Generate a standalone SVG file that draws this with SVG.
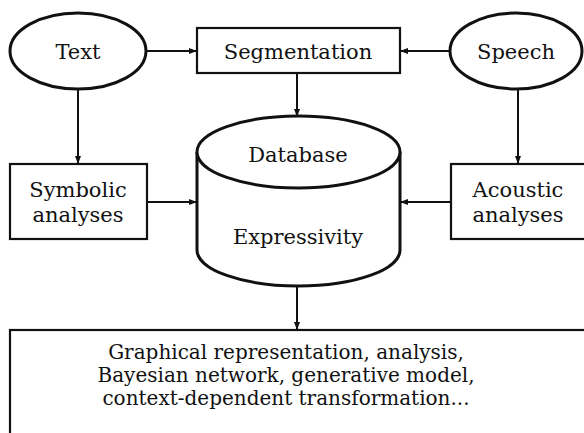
<svg xmlns="http://www.w3.org/2000/svg" width="584" height="433" viewBox="0 0 584 433">
<style>
text{font-family:"DejaVu Serif","Liberation Serif",serif;font-size:21px;fill:#111;text-anchor:middle}
.s{font-size:20px}
.b{fill:#fff;stroke:#111;stroke-width:2.2}
.e{fill:#fff;stroke:#111;stroke-width:3}
.c{fill:none;stroke:#111;stroke-width:2}
</style>
<defs>
<marker id="a" viewBox="0 0 8 6" refX="8" refY="3" markerWidth="8" markerHeight="6" markerUnits="userSpaceOnUse" orient="auto">
<path d="M0,0 L8,3 L0,6 z" fill="#111"/>
</marker>
</defs>
<g id="connectors">
<line class="c" x1="147" y1="51" x2="197" y2="51" marker-end="url(#a)"/>
<line class="c" x1="450" y1="51" x2="400" y2="51" marker-end="url(#a)"/>
<line class="c" x1="297" y1="73" x2="297" y2="117" marker-end="url(#a)"/>
<line class="c" x1="78" y1="89" x2="78" y2="164" marker-end="url(#a)"/>
<line class="c" x1="518" y1="89" x2="518" y2="164" marker-end="url(#a)"/>
<line class="c" x1="147" y1="202" x2="197" y2="202" marker-end="url(#a)"/>
<line class="c" x1="451" y1="202" x2="400" y2="202" marker-end="url(#a)"/>
<line class="c" x1="297" y1="286" x2="297" y2="330" marker-end="url(#a)"/>
</g>
<g id="text-node">
<ellipse class="e" cx="78" cy="51" rx="68" ry="38"/>
<text x="78" y="59">Text</text>
</g>
<g id="segmentation">
<rect class="b" x="197" y="28" width="203" height="45"/>
<text x="298" y="59">Segmentation</text>
</g>
<g id="speech">
<ellipse class="e" cx="516" cy="51" rx="66" ry="38"/>
<text x="516" y="59">Speech</text>
</g>
<g id="symbolic">
<rect class="b" x="10" y="164" width="137" height="75"/>
<text x="78" y="197">Symbolic</text>
<text x="78" y="222">analyses</text>
</g>
<g id="acoustic">
<rect class="b" x="451" y="164" width="140" height="75"/>
<text x="518" y="197">Acoustic</text>
<text x="518" y="222">analyses</text>
</g>
<g id="database">
<path class="e" d="M197,152 L197,250 A101.5,36 0 0 0 400,250 L400,152 A101.5,36 0 0 0 197,152 Z"/>
<path class="e" d="M197,152 A101.5,36 0 0 0 400,152"/>
<text x="298" y="162">Database</text>
<text x="298" y="244">Expressivity</text>
</g>
<g id="results">
<rect class="b" x="10" y="330" width="590" height="120"/>
<text class="s" x="286" y="359">Graphical representation, analysis,</text>
<text class="s" x="286" y="382">Bayesian network, generative model,</text>
<text class="s" x="286" y="405">context-dependent transformation...</text>
</g>
</svg>
